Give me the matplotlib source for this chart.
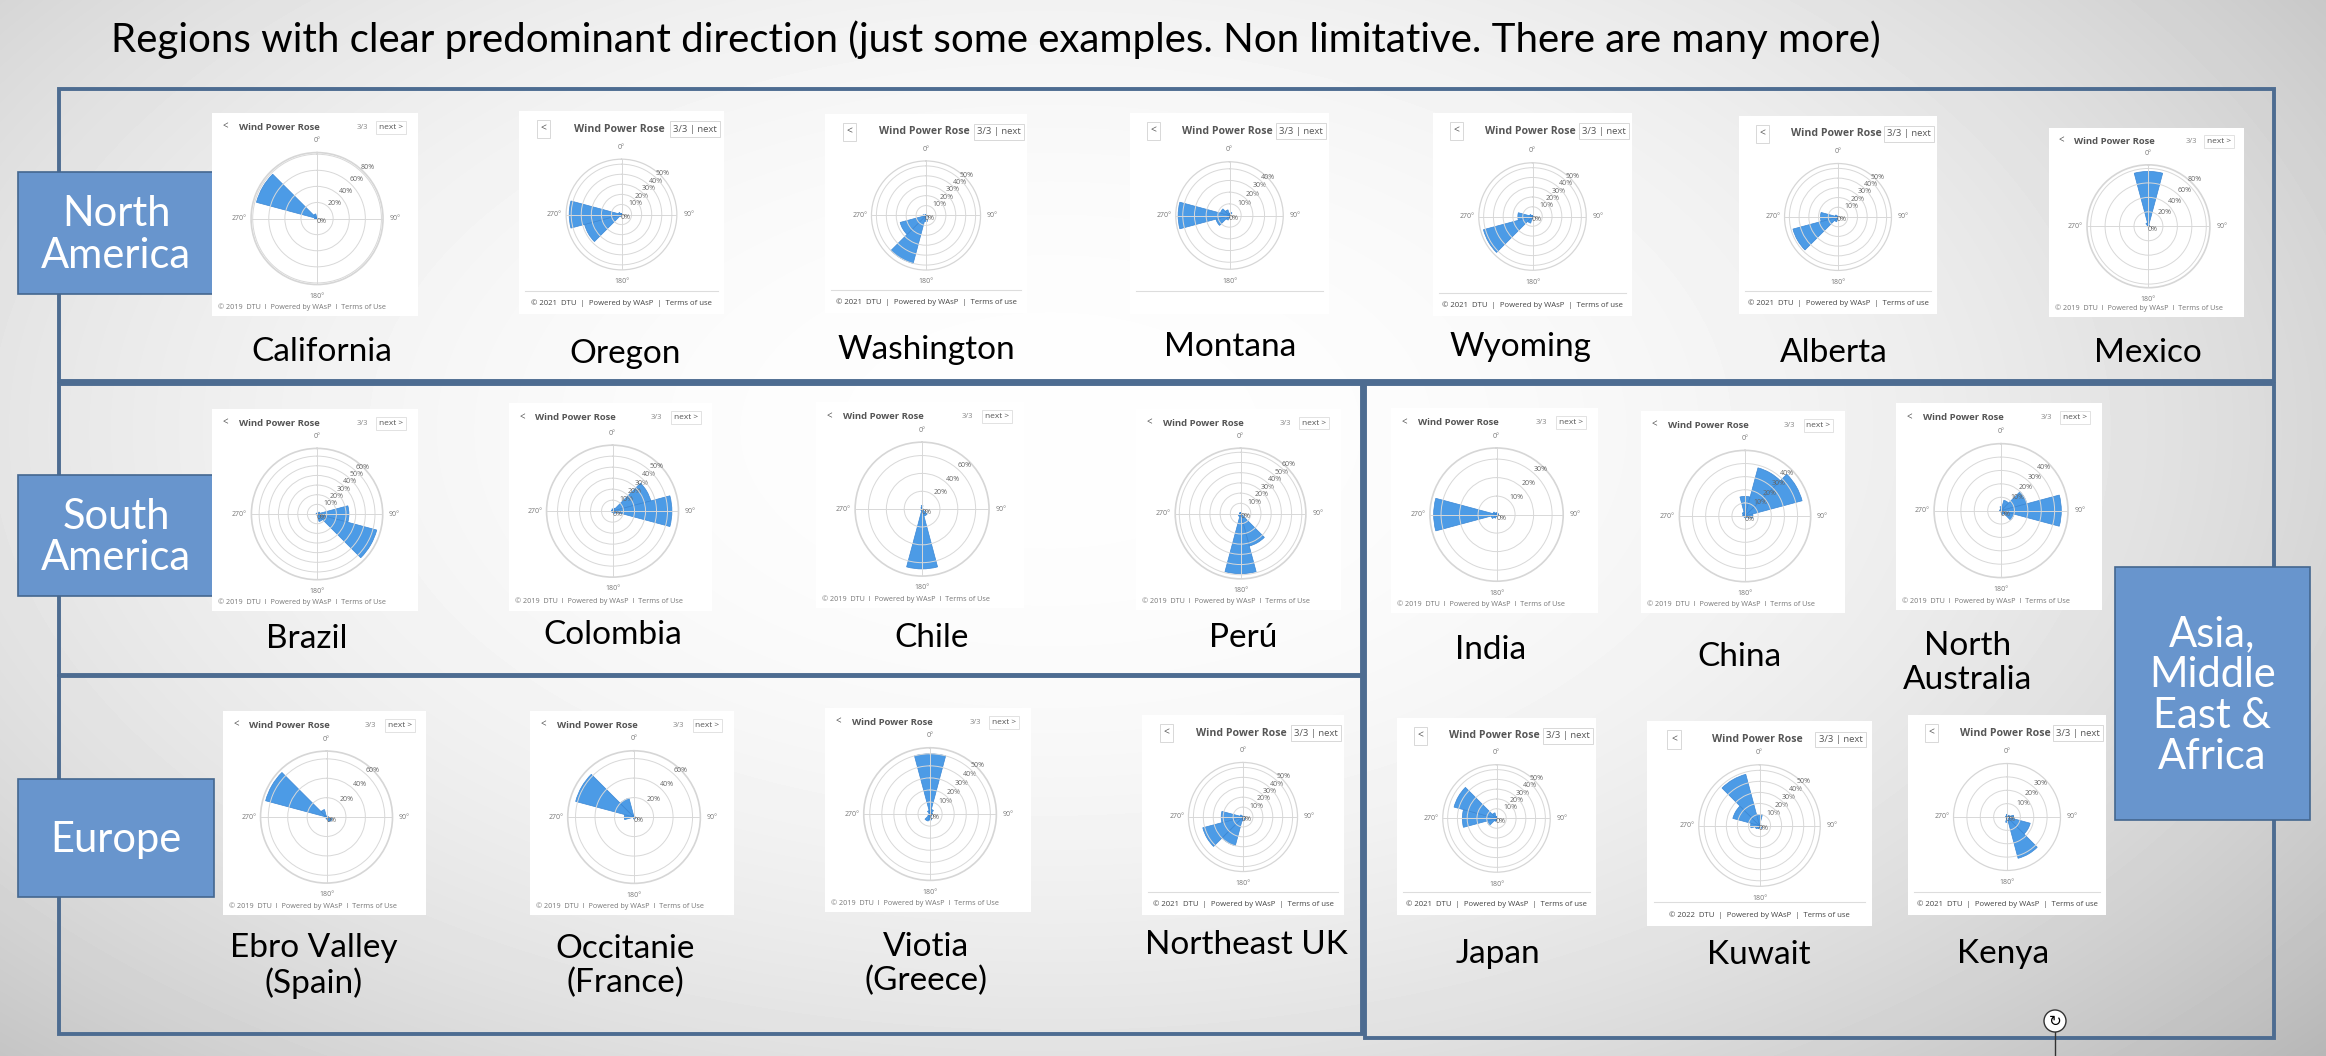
import matplotlib
matplotlib.use('Agg')  # no display
import matplotlib.pyplot as plt
from matplotlib.patches import Rectangle
import numpy as np

W, H = 2326, 1056
plt.rcParams['font.family'] = ['Lato', 'DejaVu Sans']

title = ('Regions with clear predominant direction (just some examples. '
         'Non limitative. There are many more)')

# 12 sectors of 30 deg, centred on 0, 30, ..., 330
sectors = np.arange(0, 360, 30)

# wind power share per sector (%), order 0, 30, ..., 330
california = [1, 1, 1, 1, 1, 1, 1, 1, 2, 3, 78, 6]
oregon = [1, 1, 1, 1, 1, 1, 1, 2, 38, 52, 3, 1]
washington = [1, 1, 1, 1, 1, 2, 6, 50, 27, 3, 1, 1]
montana = [2, 3, 1, 1, 1, 1, 2, 4, 12, 44, 8, 5]
wyoming = [1, 1, 1, 1, 1, 1, 2, 7, 52, 15, 3, 1]
alberta = [1, 1, 1, 1, 1, 1, 2, 5, 48, 18, 3, 1]
mexico = [76, 2, 1, 1, 1, 1, 1, 1, 1, 1, 2, 5]
brazil = [1, 1, 3, 33, 64, 8, 1, 1, 1, 1, 1, 1]
colombia = [2, 3, 36, 54, 3, 1, 1, 1, 1, 1, 1, 1]
chile = [4, 1, 1, 1, 2, 8, 67, 2, 1, 1, 1, 2]
peru = [1, 1, 1, 1, 3, 33, 59, 3, 1, 1, 1, 1]
ebro = [1, 1, 1, 2, 6, 5, 2, 1, 1, 2, 65, 8]
occitanie = [2, 1, 1, 1, 1, 2, 2, 1, 1, 10, 62, 20]
viotia = [50, 4, 2, 2, 1, 2, 5, 6, 2, 1, 1, 3]
ne_uk = [1, 1, 1, 2, 2, 3, 4, 30, 42, 22, 3, 1]
india = [1, 1, 1, 1, 1, 1, 1, 2, 3, 34, 2, 1]
china = [15, 38, 45, 6, 2, 1, 1, 1, 1, 1, 2, 3]
n_australia = [3, 8, 20, 45, 10, 3, 1, 1, 1, 1, 1, 1]
japan = [2, 1, 1, 1, 1, 1, 2, 3, 10, 35, 45, 6]
kuwait = [10, 2, 1, 1, 2, 3, 2, 3, 4, 8, 25, 48]
kenya = [2, 1, 2, 5, 18, 32, 4, 1, 1, 1, 1, 1]

# outer radius and ring values (%) of each rose
r_max = [82, 55, 55, 46, 55, 55, 85, 68, 60, 75, 64,
         68, 68, 55, 55, 36, 50, 50, 55, 55, 40]
rings = [[20, 40, 60, 80], [10, 20, 30, 40, 50], [10, 20, 30, 40, 50],
         [10, 20, 30, 40], [10, 20, 30, 40, 50], [10, 20, 30, 40, 50],
         [20, 40, 60, 80], [10, 20, 30, 40, 50, 60], [10, 20, 30, 40, 50],
         [20, 40, 60], [10, 20, 30, 40, 50, 60],
         [20, 40, 60], [20, 40, 60], [10, 20, 30, 40, 50], [10, 20, 30, 40, 50],
         [10, 20, 30], [10, 20, 30, 40], [10, 20, 30, 40],
         [10, 20, 30, 40, 50], [10, 20, 30, 40, 50], [10, 20, 30]]

names = ['California', 'Oregon', 'Washington', 'Montana', 'Wyoming', 'Alberta',
         'Mexico', 'Brazil', 'Colombia', 'Chile', 'Perú',
         'Ebro Valley\n(Spain)', 'Occitanie\n(France)', 'Viotia\n(Greece)',
         'Northeast UK', 'India', 'China', 'North\nAustralia',
         'Japan', 'Kuwait', 'Kenya']
values = [california, oregon, washington, montana, wyoming, alberta, mexico,
          brazil, colombia, chile, peru, ebro, occitanie, viotia, ne_uk,
          india, china, n_australia, japan, kuwait, kenya]
# screenshot flavour: year of the footer (old 2019 layout or newer layout)
footer_year = ['2019', '2021', '2021', None, '2021', '2021', '2019',
               '2019', '2019', '2019', '2019', '2019', '2019', '2019', '2021',
               '2019', '2019', '2019', '2021', '2022', '2021']

region_labels = ['North\nAmerica', 'South\nAmerica', 'Europe',
                 'Asia,\nMiddle\nEast &\nAfrica']

# --- layout (pixels, origin top-left) ---
cards = [(212, 113, 418, 316), (519, 111, 724, 314), (825, 114, 1027, 313),
         (1130, 113, 1329, 314), (1433, 113, 1632, 316), (1739, 116, 1937, 314),
         (2049, 128, 2244, 317),
         (212, 409, 418, 611), (509, 403, 712, 611), (816, 402, 1024, 608),
         (1136, 409, 1341, 610),
         (223, 711, 426, 915), (530, 711, 734, 915), (825, 708, 1031, 912),
         (1142, 715, 1344, 915),
         (1391, 408, 1598, 613), (1641, 411, 1845, 613), (1896, 403, 2102, 610),
         (1397, 718, 1596, 915), (1647, 721, 1872, 926), (1908, 715, 2106, 915)]
label_pos = [(322, 352), (625, 354), (926, 350), (1230, 347), (1520, 347),
             (1834, 353), (2148, 353),
             (307, 639), (613, 635), (932, 638), (1243, 638),
             (314, 966), (625, 966), (926, 964), (1246, 945),
             (1491, 650), (1739, 657), (1968, 663),
             (1498, 954), (1759, 955), (2003, 954)]
frames = [(59, 89, 2274, 381), (59, 384, 1362, 675), (59, 676, 1362, 1034),
          (1365, 384, 2274, 1038)]
label_boxes = [(18, 172, 214, 294), (18, 475, 214, 596), (18, 779, 214, 897),
               (2115, 567, 2310, 820)]

BLUE = '#4c9be6'
TF = ['Open Sans', 'DejaVu Sans']


def fig_rect(x0, y0, x1, y1):
    return [x0 / W, 1 - y1 / H, (x1 - x0) / W, (y1 - y0) / H]


def draw_card(box, vals, rmax, rr, year):
    x0, y0, x1, y1 = box
    cw, ch = x1 - x0, y1 - y0
    old = year == '2019'
    card = fig.add_axes(fig_rect(*box))
    card.set_xlim(0, 1)
    card.set_ylim(0, 1)
    card.axis('off')
    card.add_patch(Rectangle((0, 0), 1, 1, fc='white', ec='none'))
    if old:
        card.text(0.05, 0.93, '<', fontsize=7, color='#555555', va='center', family=TF)
        card.text(0.13, 0.93, 'Wind Power Rose', fontsize=6.8, fontweight='bold',
                  color='#555555', va='center', family=TF)
        card.text(0.70, 0.93, '3/3', fontsize=5.5, color='#888888', va='center', family=TF)
        card.text(0.87, 0.93, 'next >', fontsize=6, color='#555555', va='center',
                  ha='center', family=TF,
                  bbox=dict(boxstyle='square,pad=0.35', fc='white', ec='#dddddd', lw=0.6))
        card.text(0.03, 0.045, '© 2019  DTU  I  Powered by WAsP  I  Terms of Use',
                  fontsize=5.2, color='#777777', va='center', family=TF)
        rad, cx, cy = 0.325 * min(cw, ch), 0.51, 0.48
    else:
        box_kw = dict(boxstyle='square,pad=0.35', fc='white', ec='#d8d8d8', lw=0.7)
        card.text(0.12, 0.91, '<', fontsize=7.5, color='#555555', va='center',
                  ha='center', family=TF, bbox=box_kw)
        card.text(0.49, 0.91, 'Wind Power Rose', fontsize=7.6, fontweight='bold',
                  color='#555555', va='center', ha='center', family=TF)
        card.text(0.86, 0.91, '3/3 | next', fontsize=6.8, color='#555555', va='center',
                  ha='center', family=TF, bbox=box_kw)
        card.plot([0.03, 0.97], [0.115, 0.115], color='#dddddd', lw=0.8)
        if year:
            card.text(0.5, 0.055, f'© {year}  DTU  |  Powered by WAsP  |  Terms of use',
                      fontsize=5.6, color='#444444', va='center', ha='center', family=TF)
        rad, cx, cy = 0.27 * cw, 0.5, 0.49

    px, py = x0 + cx * cw, y1 - cy * ch
    ax = fig.add_axes(fig_rect(px - rad, py - rad, px + rad, py + rad), projection='polar')
    ax.set_theta_zero_location('N')
    ax.set_theta_direction(-1)
    ax.bar(np.deg2rad(sectors), vals, width=np.deg2rad(30), color=BLUE,
           edgecolor='#3b87d4', lw=0.5, zorder=1)
    ax.set_ylim(0, rmax)
    ax.set_axisbelow(False)
    ax.set_thetagrids([0, 90, 180, 270], ['0°', '90°', '180°', '270°'],
                      fontsize=5, color='#777777', family=TF)
    ax.set_rgrids(rr, [f'{v}%' for v in rr], angle=42, fontsize=5,
                  color='#666666', family=TF)
    ax.text(np.deg2rad(125), rmax * 0.09, '0%', fontsize=5, color='#666666',
            ha='center', va='center', family=TF)
    ax.tick_params(axis='x', pad=-2)
    ax.grid(color='#d8d8d8', lw=0.7)
    ax.spines['polar'].set_color('#d6d6d6')
    ax.spines['polar'].set_linewidth(1.2 if old else 0.9)
    ax.set_facecolor('white')


fig = plt.figure(figsize=(W / 100, H / 100), dpi=100)

# slide background with soft gray vignette
bg = fig.add_axes([0, 0, 1, 1])
yy, xx = np.mgrid[0:H, 0:W]
d = np.sqrt(((xx - 1050) / 1450.0) ** 2 + ((yy - 430) / 820.0) ** 2)
shade = 0.995 - 0.2 * np.clip(d, 0, 1.2) ** 2.2
bg.imshow(shade, cmap='gray', vmin=0, vmax=1, extent=(0, W, H, 0), aspect='auto')
bg.set_xlim(0, W)
bg.set_ylim(H, 0)
bg.axis('off')

bg.text(111, 40, title, fontsize=29, color='black', va='center', ha='left')

for (x0, y0, x1, y1) in frames:
    bg.add_patch(Rectangle((x0, y0), x1 - x0, y1 - y0, fill=False,
                           ec='#4d6c91', lw=2.8))

for lab, (x0, y0, x1, y1) in zip(region_labels, label_boxes):
    bg.add_patch(Rectangle((x0, y0), x1 - x0, y1 - y0, fc='#6895cd',
                           ec='#44678f', lw=1.2, zorder=3))
    bg.text((x0 + x1) / 2, (y0 + y1) / 2 + 2, lab, fontsize=30, color='white',
            ha='center', va='center', linespacing=1.1, zorder=4)

for name, (lx, ly) in zip(names, label_pos):
    bg.text(lx, ly, name, fontsize=24, color='black', ha='center', va='center',
            linespacing=1.15)

# small refresh marker at bottom of the slide
bg.add_patch(plt.Circle((2055, 1021), 11, fc='white', ec='#333333', lw=1.0, zorder=5))
bg.text(2055, 1021, '↻', fontsize=11, ha='center', va='center', zorder=6,
        family=['DejaVu Sans'])
bg.plot([2055, 2055], [1032, 1056], color='#333333', lw=1.0)

for box, vals, rmax, rr, year in zip(cards, values, r_max, rings, footer_year):
    draw_card(box, vals, rmax, rr, year)

fig.savefig('out.png', dpi=100)
